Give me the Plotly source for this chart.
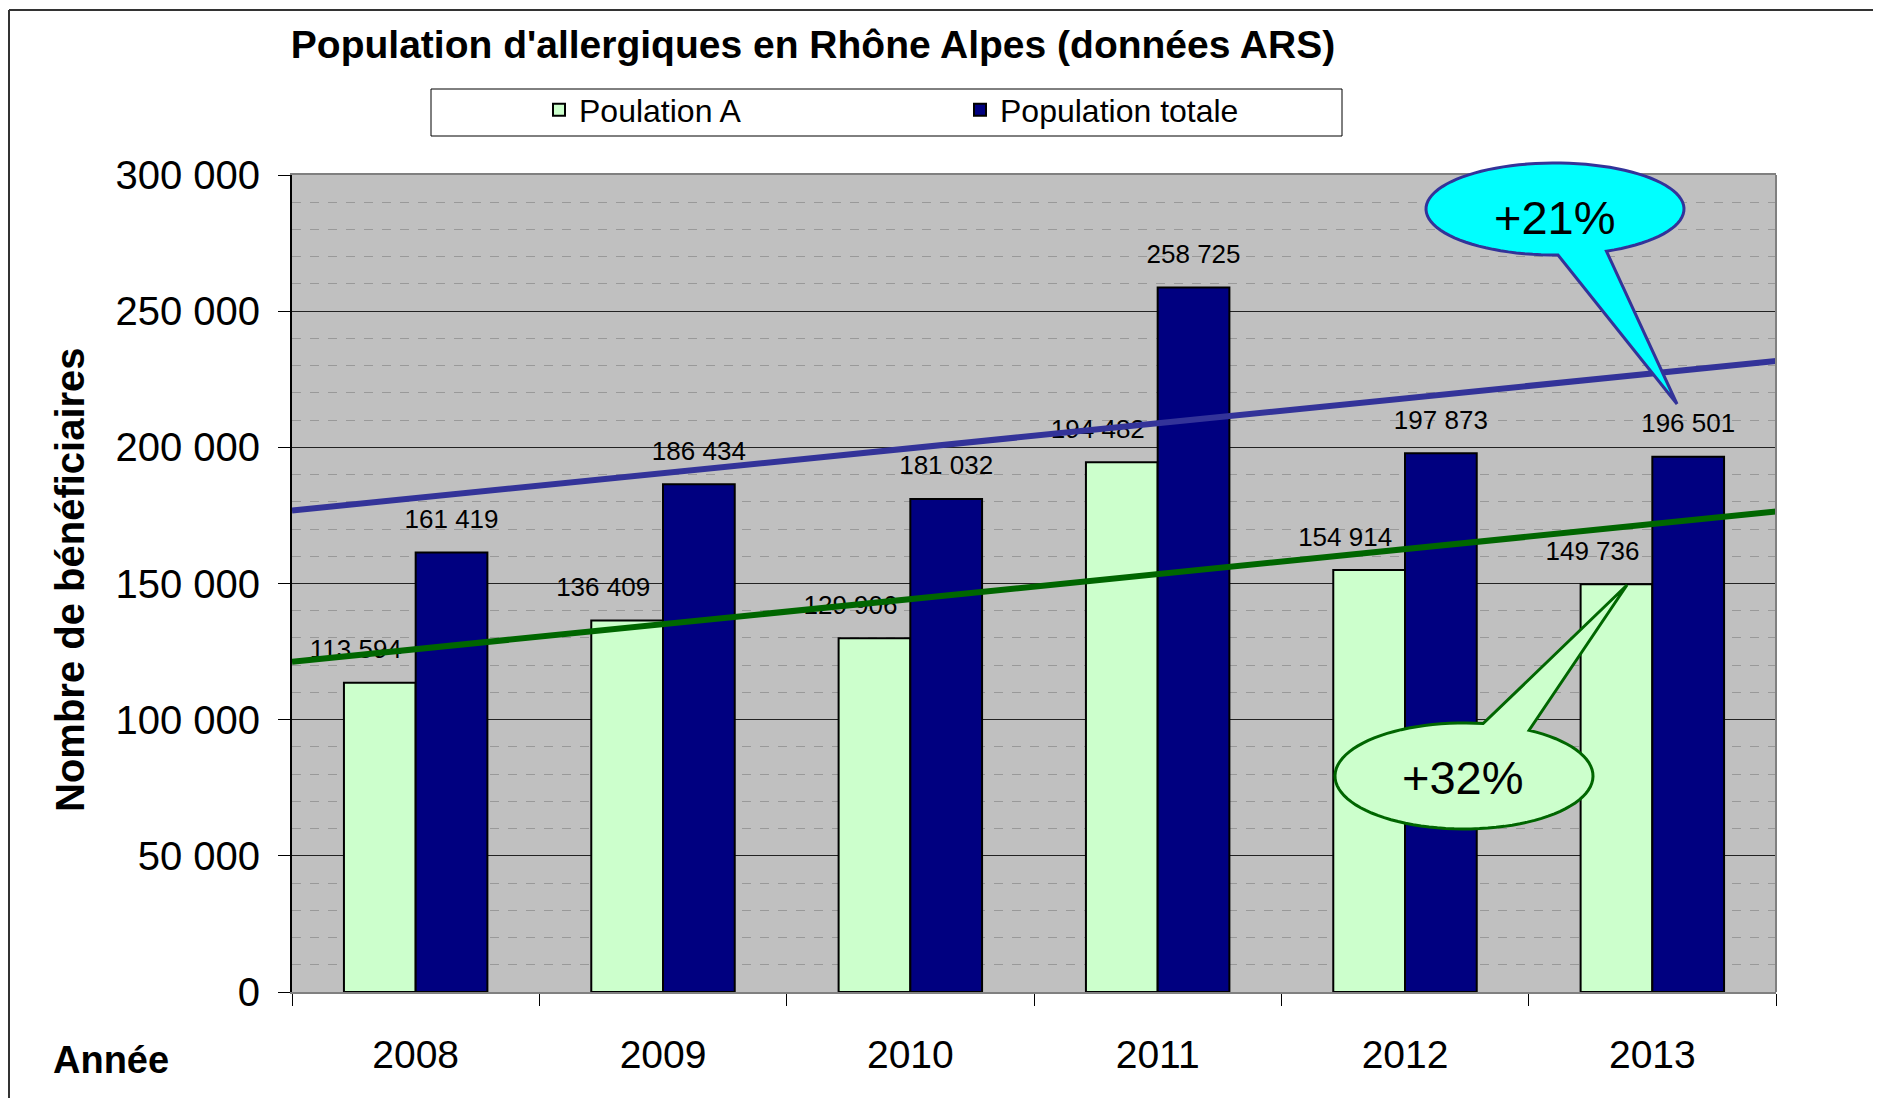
import math
import plotly.graph_objects as go

# values
years = ["2008", "2009", "2010", "2011", "2012", "2013"]
pop_a = [113594, 136409, 129906, 194482, 154914, 149736]
pop_tot = [161419, 186434, 181032, 258725, 197873, 196501]

# trend lines, read at the left and right edge of the plot
trend_x = [-0.5, 5.5]
trend_tot = [176800, 231700]
trend_a = [121300, 176400]

OFF = 8                      # page body margin
W, H = 1881 - OFF, 1106 - 2 * OFF
L, R, T, B = 292, 1776, 175, 992   # plot area in reference pixels
YMAX = 300000
BAR_W = 0.29
LABEL_SHIFT = 31 * YMAX / (B - T)   # labels sit ~31px above bar tops
FONT = "Liberation Sans, Arial, sans-serif"


def fmt(v):
    return f"{v:,}".replace(",", " ")


def paper(x, y):
    return (x - L) / (R - L), (B - y) / (B - T)


def callout_path(cx, cy, rx, ry, base1, base2, tip, n=90):
    # ellipse outline going the long way between the two base points, then the tail
    t1 = math.atan2((base1[1] - cy) / ry, (base1[0] - cx) / rx)
    t2 = math.atan2((base2[1] - cy) / ry, (base2[0] - cx) / rx)
    d = (t1 - t2) % (2 * math.pi)
    if d < math.pi:
        d -= 2 * math.pi
    pts = []
    for k in range(n + 1):
        t = t2 + d * k / n
        pts.append(paper(cx + rx * math.cos(t), cy + ry * math.sin(t)))
    pts.append(paper(*tip))
    return "M" + " L".join(f"{px:.5f},{py:.5f}" for px, py in pts) + " Z"


fig = go.Figure()

fig.add_trace(go.Bar(
    x=list(range(len(years))), y=pop_a, name="Poulation A",
    width=BAR_W, offset=-BAR_W, yaxis="y2",
    marker=dict(color="#CCFFCC", line=dict(color="black", width=2))))

fig.add_trace(go.Bar(
    x=list(range(len(years))), y=pop_tot, name="Population totale",
    width=BAR_W, offset=0, yaxis="y2",
    marker=dict(color="#000080", line=dict(color="black", width=2))))

# data labels (on the shifted base axis so the trend lines pass over them)
fig.add_trace(go.Scatter(
    x=[i - BAR_W / 2 - 0.097 for i in range(len(years))], y=pop_a,
    mode="text", text=[fmt(v) for v in pop_a], textposition="middle center",
    textfont=dict(size=26, color="black", family=FONT), showlegend=False, yaxis="y"))
fig.add_trace(go.Scatter(
    x=[i + BAR_W / 2 for i in range(len(years))], y=pop_tot,
    mode="text", text=[fmt(v) for v in pop_tot], textposition="middle center",
    textfont=dict(size=26, color="black", family=FONT), showlegend=False, yaxis="y"))

fig.add_trace(go.Scatter(
    x=trend_x, y=trend_tot, mode="lines", yaxis="y2", showlegend=False,
    line=dict(color="#333399", width=6)))
fig.add_trace(go.Scatter(
    x=trend_x, y=trend_a, mode="lines", yaxis="y2", showlegend=False,
    line=dict(color="#006600", width=6)))

shapes = []
# outer frame
fx, fy = paper(9, 10)
fx2, fy2 = paper(1900, 1120)
shapes.append(dict(type="line", xref="paper", yref="paper", x0=fx, x1=fx2, y0=fy, y1=fy,
                   line=dict(color="#333333", width=2)))
shapes.append(dict(type="line", xref="paper", yref="paper", x0=fx, x1=fx, y0=fy, y1=fy2,
                   line=dict(color="#333333", width=2)))
# right border of plot area
shapes.append(dict(type="line", xref="paper", yref="paper", x0=1, x1=1, y0=0, y1=1,
                   line=dict(color="#808080", width=2)))
# legend box
lx0, ly0 = paper(431, 136)
lx1, ly1 = paper(1342, 89)
shapes.append(dict(type="rect", xref="paper", yref="paper", x0=lx0, x1=lx1, y0=ly0, y1=ly1,
                   fillcolor="white", line=dict(color="black", width=1), layer="below"))
# callouts
shapes.append(dict(type="path", xref="paper", yref="paper",
                   path=callout_path(1555, 209, 129, 46, (1558, 255), (1605, 250), (1677, 404)),
                   fillcolor="#00FFFF", line=dict(color="#333399", width=3)))
shapes.append(dict(type="path", xref="paper", yref="paper",
                   path=callout_path(1464, 776, 129, 53, (1483, 724), (1528, 731), (1627, 585)),
                   fillcolor="#CCFFCC", line=dict(color="#006600", width=3)))

annotations = []
for txt, (px, py) in [("+21%", (1555, 217)), ("+32%", (1463, 777))]:
    ax, ay = paper(px, py)
    annotations.append(dict(text=txt, x=ax, y=ay, xref="paper", yref="paper",
                            xanchor="center", yanchor="middle",
                            showarrow=False, font=dict(size=47, color="black", family=FONT)))
ax, ay = paper(70, 580)
annotations.append(dict(text="<b>Nombre de bénéficiaires</b>", x=ax, y=ay, xref="paper", yref="paper",
                        xanchor="center", yanchor="middle",
                        textangle=-90, showarrow=False, font=dict(size=40, color="black", family=FONT)))
ax, ay = paper(111, 1060)
annotations.append(dict(text="<b>Année</b>", x=ax, y=ay, xref="paper", yref="paper",
                        xanchor="center", yanchor="middle",
                        showarrow=False, font=dict(size=38, color="black", family=FONT)))

fig.update_layout(
    width=W, height=H,
    margin=dict(l=L - OFF, r=W - (R - OFF), t=T - OFF, b=H - (B - OFF)),
    paper_bgcolor="white", plot_bgcolor="#C0C0C0",
    separators=", ",
    font=dict(family=FONT, color="black"),
    title=dict(text="<b>Population d'allergiques en Rhône Alpes (données ARS)</b>",
               x=(813 - OFF) / W, xanchor="center", y=1 - (44 - OFF) / H, yanchor="middle",
               xref="container", yref="container",
               font=dict(size=39, color="black", family=FONT)),
    barmode="overlay",
    showlegend=True,
    legend=dict(orientation="h", x=paper(539, 0)[0], xanchor="left",
                y=paper(0, 110)[1], yanchor="middle",
                bgcolor="rgba(0,0,0,0)", borderwidth=0,
                entrywidth=376, entrywidthmode="pixels",
                font=dict(size=32, color="black", family=FONT)),
    xaxis=dict(range=[-0.5, 5.5], tickmode="array", tickvals=list(range(len(years))),
               ticktext=years, ticks="", showgrid=False, zeroline=False,
               showline=True, linecolor="#808080", linewidth=2, mirror=True,
               ticklabelstandoff=27,
               tickfont=dict(size=39, color="black", family=FONT),
               minor=dict(tickmode="array", tickvals=[i - 0.5 for i in range(len(years) + 1)],
                          ticks="outside", ticklen=12, tickcolor="black", tickwidth=1,
                          showgrid=False)),
    yaxis=dict(range=[-LABEL_SHIFT, YMAX - LABEL_SHIFT], visible=False, showgrid=False,
               zeroline=False),
    yaxis2=dict(range=[0, YMAX], overlaying="y", side="left", anchor="x",
                dtick=50000, tickformat=",d", ticks="outside", ticklen=12,
                tickcolor="black", tickwidth=1, ticklabelstandoff=10,
                tickfont=dict(size=40, color="black", family=FONT),
                showgrid=True, gridcolor="#222222", gridwidth=1,
                zeroline=False, showline=True, linecolor="black", linewidth=2,
                minor=dict(dtick=10000, showgrid=True, gridcolor="#999999",
                           griddash="dash", gridwidth=1, ticks="")),
    shapes=shapes,
    annotations=annotations,
)

fig.write_html("out.html")
